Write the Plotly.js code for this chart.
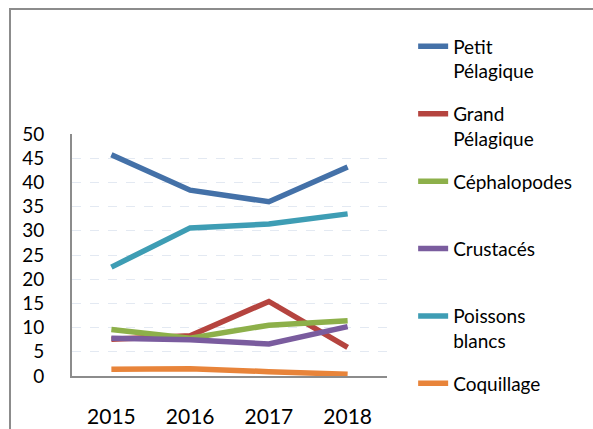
<!DOCTYPE html>
<html>
<head>
<meta charset="utf-8">
<script src="https://cdn.plot.ly/plotly-3.0.1.min.js"></script>
<style>
html,body{margin:0;padding:0;overflow:hidden;background:#fff;}
#chart{width:593px;height:429px;position:absolute;left:0;top:0;}
#frame{position:absolute;left:9px;top:8px;width:700px;height:600px;border:2px solid #8c8c8c;pointer-events:none;}
</style>
</head>
<body>
<div id="chart"></div>
<div id="frame"></div>
<script>
const years = ['2015', '2016', '2017', '2018'];
const seriesNames = ['Petit<br>Pélagique', 'Grand<br>Pélagique', 'Céphalopodes<br>&nbsp;', 'Crustacés<br>&nbsp;', 'Poissons<br>blancs', 'Coquillage<br>&nbsp;'];
const petitPelagique = [45.7, 38.4, 36.0, 43.2];
const grandPelagique = [7.6, 8.3, 15.4, 5.9];
const cephalopodes = [9.6, 7.8, 10.5, 11.4];
const crustaces = [7.8, 7.5, 6.6, 10.2];
const poissonsBlancs = [22.5, 30.6, 31.4, 33.5];
const coquillage = [1.4, 1.5, 0.9, 0.35];
const yTicks = [0, 5, 10, 15, 20, 25, 30, 35, 40, 45, 50];

const values = [petitPelagique, grandPelagique, cephalopodes, crustaces, poissonsBlancs, coquillage];
const colors = ['#4471A8', '#B5443F', '#8DB04A', '#7A5C9E', '#3E9DB4', '#E8843A'];

const traces = values.map((v, i) => ({
  x: years, y: v, name: seriesNames[i], type: 'scatter', mode: 'lines',
  legendgroup: 'g' + i,
  line: {color: colors[i], width: 5.5}
}));

const font = "Lato, 'Open Sans', sans-serif";
const layout = {
  width: 593, height: 429,
  margin: {l: 72, r: 206, t: 134, b: 53},
  paper_bgcolor: '#ffffff', plot_bgcolor: '#ffffff',
  font: {family: font, color: '#000000'},
  showlegend: true,
  legend: {
    x: 1.083, xanchor: 'left', y: 1.44, yanchor: 'top',
    font: {family: font, size: 19, color: '#000'},
    valign: 'top', tracegroupgap: 15, traceorder: 'grouped',
    maxheight: 2000,
    bgcolor: 'rgba(0,0,0,0)'
  },
  xaxis: {
    type: 'category', range: [-0.5, 3.5],
    showgrid: false, zeroline: false,
    showline: true, linecolor: '#8c8c8c', linewidth: 2,
    ticks: '', ticklabelstandoff: 21,
    tickfont: {family: font, size: 21, color: '#000'}
  },
  yaxis: {
    range: [0, 50], tickvals: yTicks, ticktext: yTicks.map(String),
    showgrid: true, gridcolor: '#e3e9f2', gridwidth: 1, griddash: 'dash',
    zeroline: false, showline: true, linecolor: '#8c8c8c', linewidth: 2,
    ticks: '', ticklabelstandoff: 22,
    tickfont: {family: font, size: 19, color: '#000'}
  }
};

Plotly.newPlot('chart', traces, layout, {displayModeBar: false, staticPlot: true});
</script>
</body>
</html>
